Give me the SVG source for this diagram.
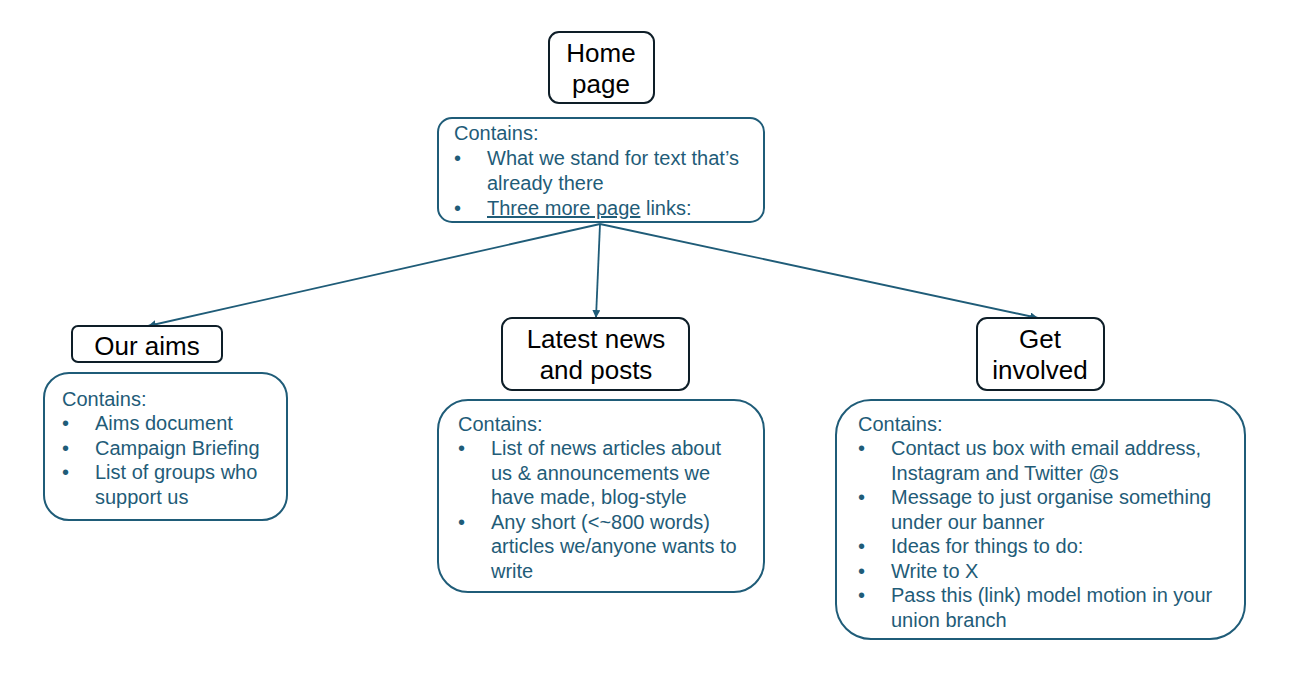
<svg xmlns="http://www.w3.org/2000/svg" width="1291" height="687" viewBox="0 0 1291 687">
<defs>
<marker id="ah" viewBox="0 0 10 10" refX="10" refY="5" markerWidth="8" markerHeight="8" markerUnits="userSpaceOnUse" orient="auto">
<path d="M0,0 L10,5 L0,10 z" fill="#1F5C78"/>
</marker>
<style>
.page{fill:#fff;stroke:#0E1E28;stroke-width:2}
.box{fill:#fff;stroke:#1F5C78;stroke-width:2}
.t{font-family:"Liberation Sans",Arial,sans-serif;font-size:26px;fill:#000}
.c{font-family:"Liberation Sans",Arial,sans-serif;font-size:20px;fill:#1F5C78}
.conn{stroke:#1F5C78;stroke-width:1.8;fill:none}
</style>
</defs>
<rect width="1291" height="687" fill="#fff"/>
<g id="connectors">
<line class="conn" x1="600" y1="224" x2="148" y2="326" marker-end="url(#ah)"/>
<line class="conn" x1="600" y1="224" x2="596" y2="318" marker-end="url(#ah)"/>
<line class="conn" x1="600" y1="224" x2="1038" y2="318" marker-end="url(#ah)"/>
</g>
<g id="home">
<rect class="page" x="549" y="32" width="105" height="71" rx="10"/>
<text class="t" x="601" y="62" text-anchor="middle">Home</text>
<text class="t" x="601" y="93" text-anchor="middle">page</text>
</g>
<g id="home-contains">
<rect class="box" x="438" y="118" width="326" height="104" rx="14"/>
<text class="c" x="454" y="140">Contains:</text>
<text class="c" x="454" y="165">•</text>
<text class="c" x="487" y="165">What we stand for text that’s</text>
<text class="c" x="487" y="190">already there</text>
<text class="c" x="454" y="215">•</text>
<text class="c" x="487" y="215"><tspan text-decoration="underline">Three more page</tspan> links:</text>
</g>
<g id="aims">
<rect class="page" x="72" y="326" width="150" height="36" rx="6"/>
<text class="t" x="147" y="355" text-anchor="middle">Our aims</text>
</g>
<g id="aims-contains">
<rect class="box" x="44" y="373" width="243" height="147" rx="25"/>
<text class="c" x="62" y="406">Contains:</text>
<text class="c" x="62" y="430">•</text>
<text class="c" x="95" y="430">Aims document</text>
<text class="c" x="62" y="455">•</text>
<text class="c" x="95" y="455">Campaign Briefing</text>
<text class="c" x="62" y="479">•</text>
<text class="c" x="95" y="479">List of groups who</text>
<text class="c" x="95" y="504">support us</text>
</g>
<g id="news">
<rect class="page" x="502" y="318" width="187" height="72" rx="10"/>
<text class="t" x="596" y="348" text-anchor="middle">Latest news</text>
<text class="t" x="596" y="379" text-anchor="middle">and posts</text>
</g>
<g id="news-contains">
<rect class="box" x="438" y="400" width="326" height="192" rx="30"/>
<text class="c" x="458" y="431">Contains:</text>
<text class="c" x="458" y="455">•</text>
<text class="c" x="491" y="455">List of news articles about</text>
<text class="c" x="491" y="480">us &amp; announcements we</text>
<text class="c" x="491" y="504">have made, blog-style</text>
<text class="c" x="458" y="529">•</text>
<text class="c" x="491" y="529">Any short (&lt;~800 words)</text>
<text class="c" x="491" y="553">articles we/anyone wants to</text>
<text class="c" x="491" y="578">write</text>
</g>
<g id="involved">
<rect class="page" x="977" y="318" width="127" height="72" rx="10"/>
<text class="t" x="1040" y="348" text-anchor="middle">Get</text>
<text class="t" x="1040" y="379" text-anchor="middle">involved</text>
</g>
<g id="involved-contains">
<rect class="box" x="836" y="400" width="409" height="239" rx="35"/>
<text class="c" x="858" y="431">Contains:</text>
<text class="c" x="858" y="455">•</text>
<text class="c" x="891" y="455">Contact us box with email address,</text>
<text class="c" x="891" y="480">Instagram and Twitter @s</text>
<text class="c" x="858" y="504">•</text>
<text class="c" x="891" y="504">Message to just organise something</text>
<text class="c" x="891" y="529">under our banner</text>
<text class="c" x="858" y="553">•</text>
<text class="c" x="891" y="553">Ideas for things to do:</text>
<text class="c" x="858" y="578">•</text>
<text class="c" x="891" y="578">Write to X</text>
<text class="c" x="858" y="602">•</text>
<text class="c" x="891" y="602">Pass this (link) model motion in your</text>
<text class="c" x="891" y="627">union branch</text>
</g>
</svg>
